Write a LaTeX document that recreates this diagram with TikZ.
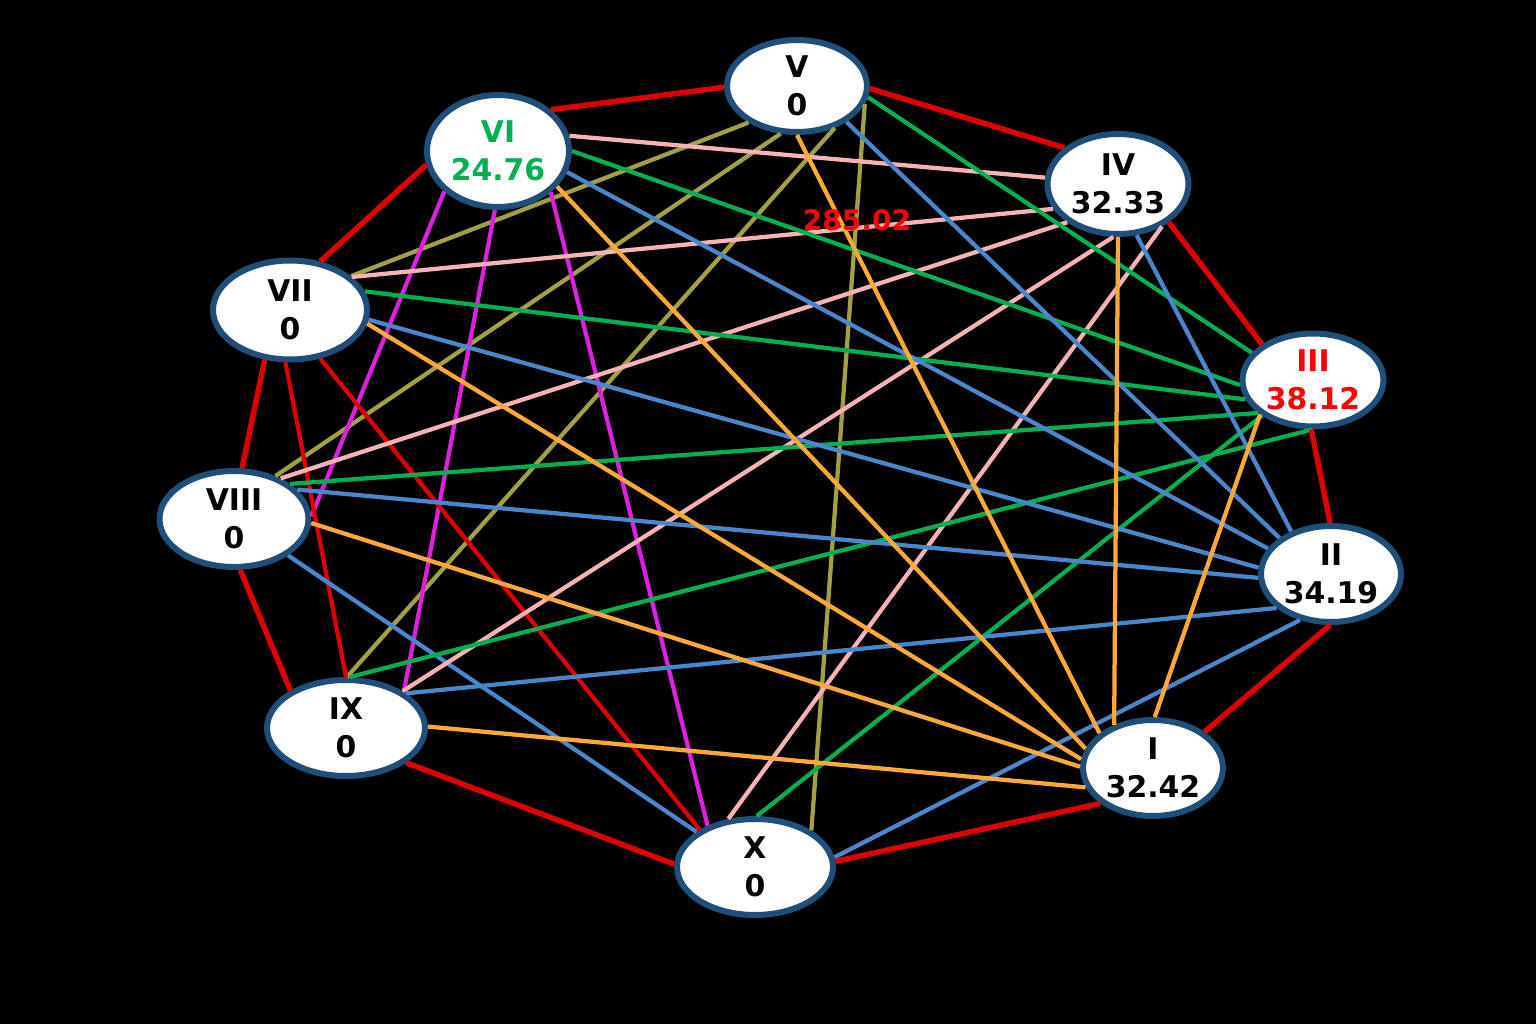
\documentclass[tikz,border=0pt]{standalone}
\usepackage{fontspec}
\setmainfont{DejaVu Sans}
\usetikzlibrary{shapes.geometric}

\definecolor{nodeblue}{HTML}{1F4E79}
\definecolor{ringred}{HTML}{DD0000}
\definecolor{linkpink}{HTML}{F7B3B3}
\definecolor{linkgreen}{HTML}{00B050}
\definecolor{linkblue}{HTML}{4A86CC}
\definecolor{linkorange}{HTML}{FFAA38}
\definecolor{linkolive}{HTML}{A2A043}
\definecolor{linkmagenta}{HTML}{DD22DD}
\definecolor{scoregreen}{HTML}{00B050}
\definecolor{scorered}{HTML}{FF0000}

\tikzset{
  vertex/.style={ellipse, draw=nodeblue, line width=0.12cm, fill=white,
    inner sep=0pt, align=center, font=\bfseries\fontsize{17}{21.5}\selectfont},
  ring/.style={ringred, line width=0.11cm},
  link/.style={line width=0.085cm},
}

\begin{document}
\begin{tikzpicture}[x=0.02cm, y=-0.02cm]
    \fill[black] (0,0) rectangle (1536,1024);
    % cities
    \node[vertex, minimum width=2.8cm, minimum height=1.84cm] (V) at (797,86) {V\\0};
    \node[vertex, minimum width=2.84cm, minimum height=2.24cm, text=scoregreen] (VI) at (498,151) {VI\\24.76};
    \node[vertex, minimum width=2.82cm, minimum height=2.0cm] (IV) at (1118,184) {IV\\32.33};
    \node[vertex, minimum width=3.08cm, minimum height=1.98cm] (VII) at (290,310) {VII\\0};
    \node[vertex, minimum width=2.82cm, minimum height=1.86cm, text=scorered] (III) at (1313,380) {III\\38.12};
    \node[vertex, minimum width=2.98cm, minimum height=1.92cm] (VIII) at (234,519) {VIII\\0};
    \node[vertex, minimum width=2.8cm, minimum height=1.92cm] (II) at (1331,574) {II\\34.19};
    \node[vertex, minimum width=3.16cm, minimum height=1.92cm] (IX) at (346,728) {IX\\0};
    \node[vertex, minimum width=2.8cm, minimum height=1.92cm] (I) at (1153,768) {I\\32.42};
    \node[vertex, minimum width=3.12cm, minimum height=1.92cm] (X) at (755,867) {X\\0};

    % links
    \foreach \a/\b in {V.217/VII.29, V.251/VIII.46, V.312/IX.89, V.345/X.33}
        \draw[link, linkolive] (\a) -- (\b);
    \foreach \a/\b in {VI.217/VIII.2, VI.267/IX.32, VI.322/X.139}
        \draw[link, linkmagenta] (\a) -- (\b);
    \foreach \a/\b in {VII.265/IX.90, VII.302/X.146}
        \draw[link, ringred] (\a) -- (\b);
    \draw[link, linkblue] (VIII.326) -- (X.149);
    \foreach \a/\b in {IV.175/VI.12, IV.201/VII.28, IV.217/VIII.41, IV.265/IX.33, IV.316/X.119}
        \draw[link, linkpink] (\a) -- (\b);
    \foreach \a/\b in {III.156/V.351, III.184/VI.0, III.196/VII.14, III.211/VIII.32, III.269/IX.86, III.215/X.88}
        \draw[link, linkgreen] (\a) -- (\b);
    \foreach \a/\b in {II.133/IV.290, II.145/V.324, II.158/VI.343, II.175/VII.353, II.183/VIII.25, II.212/IX.30, II.236/X.7}
        \draw[link, linkblue] (\a) -- (\b);
    \foreach \a/\b in {I.88/III.213, I.132/IV.270, I.147/V.270, I.164/VI.329, I.173/VII.350, I.179/VIII.357, I.196/IX.1}
        \draw[link, linkorange] (\a) -- (\b);

    % tour
    \foreach \a/\b in {V.358/IV.146, IV.323/III.145, III.268/II.91, II.269/I.35, I.214/X.4,
        X.178/IX.330, IX.146/VIII.277, VIII.81/VII.243, VII.58/VI.191, VI.38/V.181}
        \draw[ring] (\a) -- (\b);

    \node[text=scorered, font=\bfseries\fontsize{16}{20}\selectfont] (total) at (857,220) {285.02};
\end{tikzpicture}
\end{document}
